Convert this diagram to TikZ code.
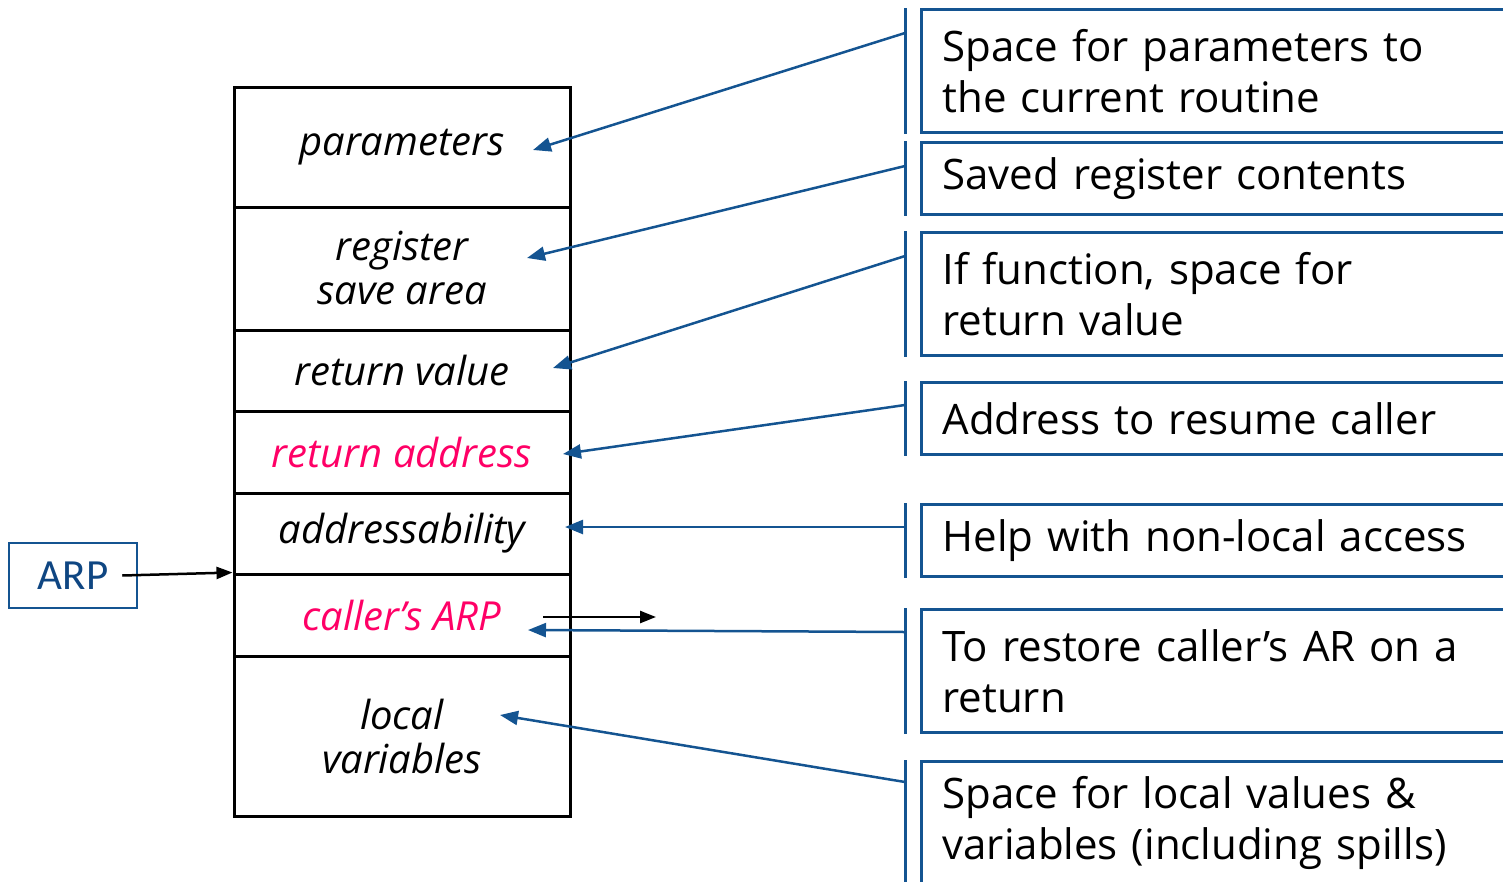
\documentclass[tikz,border=0pt]{standalone}
\usepackage{fontspec}
\setmainfont{Open Sans}
\newfontfamily\arpfont{Carlito}
\usetikzlibrary{arrows.meta}
\definecolor{notebl}{RGB}{20,84,145}
\definecolor{arpbl}{RGB}{15,70,130}
\definecolor{hotpink}{RGB}{255,0,102}

\begin{document}
\begin{tikzpicture}[x=1pt,y=-1pt,
    cell/.style={draw,line width=3pt,minimum width=336pt,inner sep=0pt,align=center,
      font=\itshape\fontsize{40}{44}\selectfont},
    note/.style={draw=notebl,line width=3pt,anchor=north west,text width=600pt,
      inner xsep=21pt,inner ysep=0pt,align=left,font=\fontsize{42}{51}\selectfont},
    bar/.style={notebl,line width=3pt},
    ptr/.style={notebl,line width=2.5pt,-{Triangle[length=18pt,width=14pt]}},
    blk/.style={black,line width=2.5pt,-{Triangle[length=16pt,width=12pt]}}]
      \useasboundingbox (0,0) rectangle (1503,881);
      \clip (0,0) rectangle (1503,881);

      % the activation record
      \node[cell,minimum height=120pt] (params) at (402,147) {parameters};
      \node[cell,minimum height=123pt] (regs) at (402,268.5) {register\\save area};
      \node[cell,minimum height=81pt] (retval) at (402,370.5) {return value};
      \node[cell,minimum height=82pt,text=hotpink] (retaddr) at (402,452) {return address};
      \node[cell,minimum height=81pt] (access) at (402,533.5) {addressability};
      \node[cell,minimum height=82pt,text=hotpink] (callarp) at (402,615) {caller’s ARP};
      \node[cell,minimum height=160pt] (locals) at (402,736) {local\\variables};

      % the pointer into it
      \node[draw=notebl,line width=2.5pt,minimum width=128pt,minimum height=65pt,text=arpbl,
        font=\arpfont\fontsize{43}{43}\selectfont] (arp) at (73,575.5) {ARP};
      \draw[blk] ([xshift=-16pt]arp.east) -- (callarp.north west);

      \coordinate (arpout) at (543,617);
      \coordinate (arpend) at (656,617);
      \draw[blk] (arpout) -- (arpend);

      % the notes on the right
      \node[note,minimum height=123pt] (n1) at (920,8) {Space for parameters to\\the current routine};
      \node[note,minimum height=72pt] (n2) at (920,141) {Saved register contents};
      \node[note,minimum height=123pt] (n3) at (920,231) {If function, space for\\return value};
      \node[note,minimum height=72pt] (n4) at (920,381) {Address to resume caller};
      \node[note,minimum height=72pt] (n5) at (920,503) {Help with non-local access};
      \node[note,minimum height=123pt] (n6) at (920,608) {To restore caller's AR on a\\return};
      \node[note,minimum height=123pt] (n7) at (920,760) {Space for local values \&\\variables (including spills)};

      \draw[bar] ([xshift=-15pt]n1.north west) -- ([xshift=-15pt]n1.south west);
      \draw[bar] ([xshift=-15pt]n2.north west) -- ([xshift=-15pt]n2.south west);
      \draw[bar] ([xshift=-15pt]n3.north west) -- ([xshift=-15pt]n3.south west);
      \draw[bar] ([xshift=-15pt]n4.north west) -- ([xshift=-15pt]n4.south west);
      \draw[bar] ([xshift=-15pt]n5.north west) -- ([xshift=-15pt]n5.south west);
      \draw[bar] ([xshift=-15pt]n6.north west) -- ([xshift=-15pt]n6.south west);
      \draw[bar] ([xshift=-15pt]n7.north west) -- ([xshift=-15pt]n7.south west);

      % where the arrows land
      \coordinate (t1) at (533,150);
      \coordinate (t2) at (527,258);
      \coordinate (t3) at (553,368);
      \coordinate (t4) at (563,454);
      \coordinate (t5) at (565,527);
      \coordinate (t6) at (528,630);
      \coordinate (t7) at (500,715);

      \draw[ptr] ([xshift=-15pt,yshift=-25pt]n1.north west) -- (t1);
      \draw[ptr] ([xshift=-15pt,yshift=-25pt]n2.north west) -- (t2);
      \draw[ptr] ([xshift=-15pt,yshift=-25pt]n3.north west) -- (t3);
      \draw[ptr] ([xshift=-15pt,yshift=-24pt]n4.north west) -- (t4);
      \draw[ptr] ([xshift=-15pt,yshift=-24pt]n5.north west) -- (t5);
      \draw[ptr] ([xshift=-15pt,yshift=-24pt]n6.north west) -- (t6);
      \draw[ptr] ([xshift=-15pt,yshift=-22pt]n7.north west) -- (t7);
    \end{tikzpicture}
\end{document}
